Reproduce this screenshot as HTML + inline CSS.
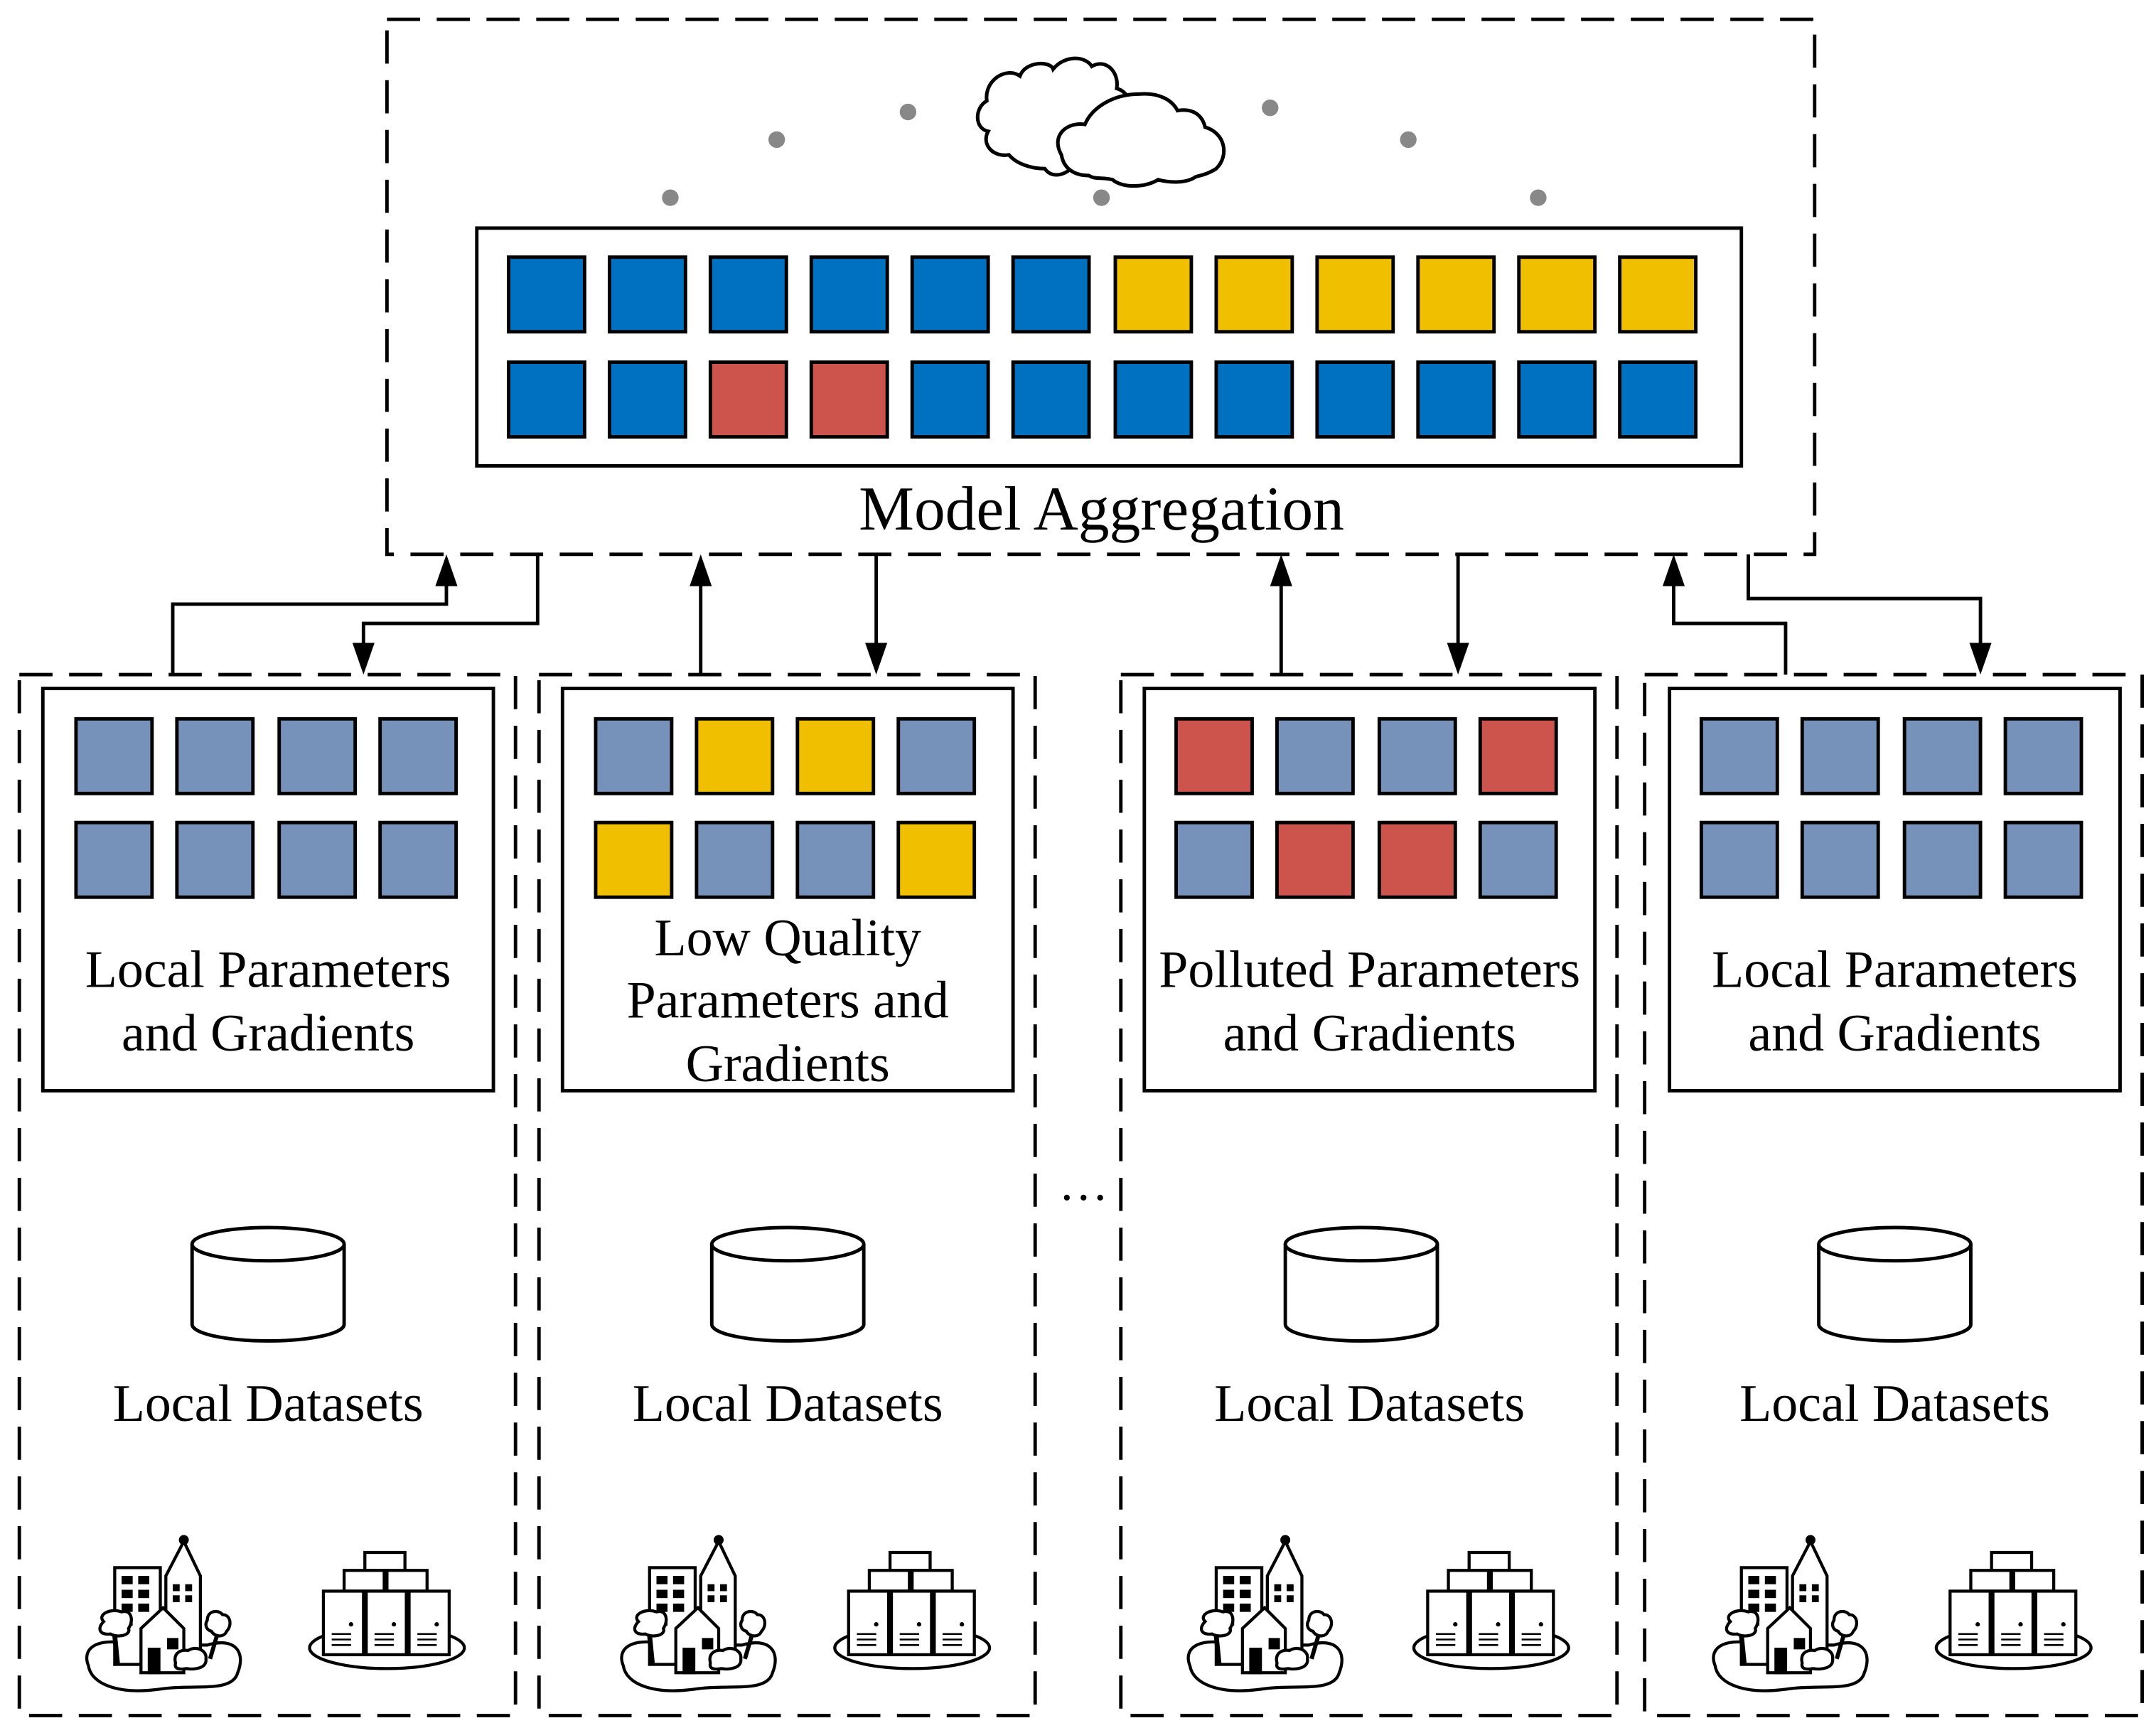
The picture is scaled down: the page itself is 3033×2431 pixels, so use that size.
<!DOCTYPE html>
<html><head><meta charset="utf-8"><style>html,body{margin:0;padding:0;background:#fff}svg{display:block}</style></head>
<body>
<svg width="3033" height="2431" viewBox="0 0 1560 1250" preserveAspectRatio="none" xmlns="http://www.w3.org/2000/svg" font-family="'Liberation Serif', serif">
<defs>
<g id="city" fill="none" stroke="#000" stroke-width="2.2">
 <path d="M64 1205 C58 1190 75 1184 95 1190 L150 1190 C170 1184 178 1195 172 1210 C168 1225 140 1218 115 1222 C85 1226 66 1218 64 1205Z" fill="#fff"/>
 <rect x="83" y="1134" width="33" height="70" fill="#fff"/>
 <g fill="#000" stroke="none"><rect x="88" y="1140" width="8" height="6"/><rect x="100" y="1140" width="8" height="6"/><rect x="88" y="1150" width="8" height="6"/><rect x="100" y="1150" width="8" height="6"/><rect x="88" y="1160" width="8" height="6"/><rect x="100" y="1160" width="8" height="6"/><rect x="88" y="1170" width="8" height="6"/></g>
 <path d="M120 1196 L120 1140 L133 1115 L145 1140 L145 1196Z" fill="#fff"/>
 <circle cx="133" cy="1114" r="2.5" fill="#000"/>
 <g fill="#000" stroke="none"><rect x="125" y="1146" width="5" height="5"/><rect x="134" y="1146" width="5" height="5"/><rect x="125" y="1154" width="5" height="5"/><rect x="134" y="1154" width="5" height="5"/></g>
 <path d="M102 1210 L102 1178 L118 1163 L133 1178 L133 1210Z" fill="#fff"/>
 <rect x="108" y="1193" width="7" height="17" fill="#000"/><rect x="122" y="1186" width="6" height="6" fill="#000"/>
 <path d="M75 1173 C70 1168 80 1163 88 1166 C95 1164 97 1172 93 1178 C95 1183 85 1185 80 1182 C72 1183 70 1178 75 1173Z" fill="#fff"/>
 <path d="M83 1183 L85 1203" stroke-width="3.5"/>
 <path d="M150 1172 C150 1165 158 1164 161 1168 C167 1168 168 1176 164 1180 C162 1185 155 1184 153 1180 C149 1179 148 1175 150 1172Z" fill="#fff"/>
 <path d="M157 1183 L152 1200" stroke-width="3"/>
 <path d="M127 1203 C125 1195 132 1193 136 1194 C142 1190 150 1194 149 1200 C150 1207 140 1208 135 1207 C129 1208 126 1207 127 1203Z" fill="#fff"/>
</g>
<g id="server" fill="none" stroke="#000" stroke-width="2.2">
 <ellipse cx="280" cy="1192" rx="56" ry="15" fill="#fff"/>
 <rect x="264" y="1123" width="29" height="13" fill="#fff"/>
 <rect x="249" y="1136" width="29" height="15" fill="#fff"/><rect x="280" y="1136" width="29" height="15" fill="#fff"/>
 <rect x="234" y="1151" width="29" height="46" fill="#fff"/><rect x="265" y="1151" width="29" height="46" fill="#fff"/><rect x="296" y="1151" width="29" height="46" fill="#fff"/>
 <g stroke-width="1.3"><path d="M240 1182h14M240 1186h14M240 1190h14M271 1182h14M271 1186h14M271 1190h14M302 1182h14M302 1186h14M302 1190h14"/></g>
 <g fill="#000" stroke="none"><circle cx="254" cy="1175" r="1.6"/><circle cx="285" cy="1175" r="1.6"/><circle cx="316" cy="1175" r="1.6"/></g>
</g>
<g id="cyl" fill="#fff" stroke="#000" stroke-width="2.5">
 <path d="M139 900 L139 958 A55 12 0 0 0 249 958 L249 900"/>
 <ellipse cx="194" cy="900" rx="55" ry="12"/>
</g>
</defs>

<rect x="280" y="14" width="1033" height="387" fill="none" stroke="#000" stroke-width="2.5" stroke-dasharray="24 12"/>

<g fill="#fff" stroke="#000" stroke-width="2.6">
 <path d="M714 73 C712 58 728 48 738 55 C742 44 760 44 762 50 C770 40 785 40 790 48 C800 42 810 52 808 64 C815 66 818 72 818 80 L800 125 C790 120 780 118 775 122 C768 128 760 128 756 122 C745 122 735 118 730 112 C718 114 710 104 715 95 C705 93 705 78 714 73Z"/>
 <path d="M768 112 C760 98 772 88 785 90 C790 78 805 68 825 68 C838 67 848 72 852 80 C864 78 870 84 872 92 C886 96 890 112 880 122 C874 126 868 127 865 128 C858 133 845 132 838 130 C828 136 812 136 805 130 C798 128 792 130 788 127 C780 127 770 124 768 112Z"/>
</g>

<g fill="#888"><circle cx="485" cy="143" r="6"/><circle cx="562" cy="101" r="6"/><circle cx="657" cy="81" r="6"/><circle cx="797" cy="143" r="6"/><circle cx="919" cy="78" r="6"/><circle cx="1019" cy="101" r="6"/><circle cx="1113" cy="143" r="6"/></g>

<rect x="345" y="165" width="915" height="172" fill="#fff" stroke="#000" stroke-width="2.5"/>
<g stroke="#000" stroke-width="2.5">
 <rect x="368" y="186" width="55" height="54" fill="#0070C0"/><rect x="441" y="186" width="55" height="54" fill="#0070C0"/><rect x="514" y="186" width="55" height="54" fill="#0070C0"/><rect x="587" y="186" width="55" height="54" fill="#0070C0"/><rect x="660" y="186" width="55" height="54" fill="#0070C0"/><rect x="733" y="186" width="55" height="54" fill="#0070C0"/>
 <rect x="807" y="186" width="55" height="54" fill="#F0C000"/><rect x="880" y="186" width="55" height="54" fill="#F0C000"/><rect x="953" y="186" width="55" height="54" fill="#F0C000"/><rect x="1026" y="186" width="55" height="54" fill="#F0C000"/><rect x="1099" y="186" width="55" height="54" fill="#F0C000"/><rect x="1172" y="186" width="55" height="54" fill="#F0C000"/>
 <rect x="368" y="262" width="55" height="54" fill="#0070C0"/><rect x="441" y="262" width="55" height="54" fill="#0070C0"/><rect x="514" y="262" width="55" height="54" fill="#CD544C"/><rect x="587" y="262" width="55" height="54" fill="#CD544C"/><rect x="660" y="262" width="55" height="54" fill="#0070C0"/><rect x="733" y="262" width="55" height="54" fill="#0070C0"/>
 <rect x="807" y="262" width="55" height="54" fill="#0070C0"/><rect x="880" y="262" width="55" height="54" fill="#0070C0"/><rect x="953" y="262" width="55" height="54" fill="#0070C0"/><rect x="1026" y="262" width="55" height="54" fill="#0070C0"/><rect x="1099" y="262" width="55" height="54" fill="#0070C0"/><rect x="1172" y="262" width="55" height="54" fill="#0070C0"/>
</g>
<text x="797" y="383" font-size="45" text-anchor="middle">Model Aggregation</text>

<g fill="none" stroke="#000" stroke-width="2.5">
 <path d="M125 488 V437 H323 V420"/>
 <path d="M389 401 V451 H263 V468"/>
 <path d="M507 488 V420"/><path d="M634 401 V468"/>
 <path d="M927 488 V420"/><path d="M1055 401 V468"/>
 <path d="M1292 488 V451 H1211 V420"/>
 <path d="M1265 401 V433 H1433 V468"/>
</g>
<g fill="#000">
 <path d="M323 401 L315 424 L331 424Z"/><path d="M263 488 L255 465 L271 465Z"/>
 <path d="M507 401 L499 424 L515 424Z"/><path d="M634 488 L626 465 L642 465Z"/>
 <path d="M927 401 L919 424 L935 424Z"/><path d="M1055 488 L1047 465 L1063 465Z"/>
 <path d="M1211 401 L1203 424 L1219 424Z"/><path d="M1433 488 L1425 465 L1441 465Z"/>
</g>

<g fill="none" stroke="#000" stroke-width="2.5" stroke-dasharray="24 12">
 <rect x="14" y="488" width="359" height="753"/>
 <rect x="390" y="488" width="359" height="753"/>
 <rect x="811" y="488" width="359" height="753"/>
 <rect x="1190" y="488" width="360" height="753"/>
</g>

<g fill="#fff" stroke="#000" stroke-width="2.5">
 <rect x="31" y="498" width="326" height="291"/>
 <rect x="407" y="498" width="326" height="291"/>
 <rect x="828" y="498" width="326" height="291"/>
 <rect x="1208" y="498" width="326" height="291"/>
</g>

<g stroke="#000" stroke-width="2.5">
 <g fill="#7691BA"><rect x="55" y="520" width="55" height="54"/><rect x="128" y="520" width="55" height="54"/><rect x="202" y="520" width="55" height="54"/><rect x="275" y="520" width="55" height="54"/><rect x="55" y="595" width="55" height="54"/><rect x="128" y="595" width="55" height="54"/><rect x="202" y="595" width="55" height="54"/><rect x="275" y="595" width="55" height="54"/></g>
 <rect x="431" y="520" width="55" height="54" fill="#7691BA"/><rect x="504" y="520" width="55" height="54" fill="#F0C000"/><rect x="577" y="520" width="55" height="54" fill="#F0C000"/><rect x="650" y="520" width="55" height="54" fill="#7691BA"/>
 <rect x="431" y="595" width="55" height="54" fill="#F0C000"/><rect x="504" y="595" width="55" height="54" fill="#7691BA"/><rect x="577" y="595" width="55" height="54" fill="#7691BA"/><rect x="650" y="595" width="55" height="54" fill="#F0C000"/>
 <rect x="851" y="520" width="55" height="54" fill="#CD544C"/><rect x="924" y="520" width="55" height="54" fill="#7691BA"/><rect x="998" y="520" width="55" height="54" fill="#7691BA"/><rect x="1071" y="520" width="55" height="54" fill="#CD544C"/>
 <rect x="851" y="595" width="55" height="54" fill="#7691BA"/><rect x="924" y="595" width="55" height="54" fill="#CD544C"/><rect x="998" y="595" width="55" height="54" fill="#CD544C"/><rect x="1071" y="595" width="55" height="54" fill="#7691BA"/>
 <g fill="#7691BA"><rect x="1231" y="520" width="55" height="54"/><rect x="1304" y="520" width="55" height="54"/><rect x="1378" y="520" width="55" height="54"/><rect x="1451" y="520" width="55" height="54"/><rect x="1231" y="595" width="55" height="54"/><rect x="1304" y="595" width="55" height="54"/><rect x="1378" y="595" width="55" height="54"/><rect x="1451" y="595" width="55" height="54"/></g>
</g>

<g font-size="38" text-anchor="middle">
 <text x="194" y="714">Local Parameters</text><text x="194" y="760">and Gradients</text>
 <text x="570" y="691">Low Quality</text><text x="570" y="736">Parameters and</text><text x="570" y="782">Gradients</text>
 <text x="991" y="714">Polluted Parameters</text><text x="991" y="760">and Gradients</text>
 <text x="1371" y="714">Local Parameters</text><text x="1371" y="760">and Gradients</text>
 <text x="194" y="1028">Local Datasets</text>
 <text x="570" y="1028">Local Datasets</text>
 <text x="991" y="1028">Local Datasets</text>
 <text x="1371" y="1028">Local Datasets</text>
</g>
<text x="784" y="868" font-size="36" text-anchor="middle">…</text>

<use href="#cyl"/><use href="#cyl" transform="translate(376,0)"/><use href="#cyl" transform="translate(791,0)"/><use href="#cyl" transform="translate(1177,0)"/>
<use href="#city"/><use href="#city" transform="translate(387,0)"/><use href="#city" transform="translate(797,0)"/><use href="#city" transform="translate(1177,0)"/>
<use href="#server"/><use href="#server" transform="translate(380,0)"/><use href="#server" transform="translate(799,0)"/><use href="#server" transform="translate(1177,0)"/>
</svg>
</body></html>
